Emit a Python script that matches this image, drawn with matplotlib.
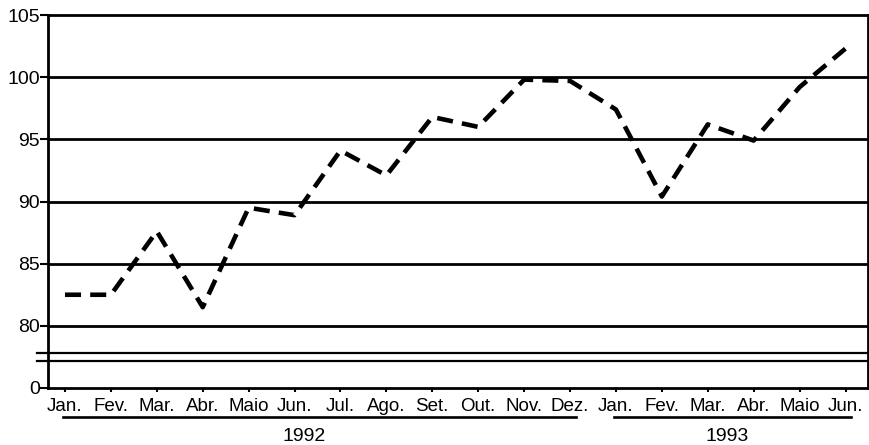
import matplotlib
matplotlib.use("Agg")
import matplotlib.pyplot as plt
import matplotlib.transforms as mtransforms

plt.rcParams['font.family'] = ['Liberation Sans', 'DejaVu Sans']

months = ["Jan.", "Fev.", "Mar.", "Abr.", "Maio", "Jun.", "Jul.", "Ago.", "Set.", "Out.",
          "Nov.", "Dez.", "Jan.", "Fev.", "Mar.", "Abr.", "Maio", "Jun."]
values = [82.5, 82.5, 87.6, 81.5, 89.5, 88.9, 94.1, 92.1, 96.8, 96.0,
          99.8, 99.7, 97.4, 90.4, 96.2, 94.9, 99.2, 102.3]
years = ["1992", "1993"]
year_spans = [(0, 11), (12, 17)]
ytick_vals = [75, 80, 85, 90, 95, 100, 105]
ytick_labels = ["0", "80", "85", "90", "95", "100", "105"]
grid_vals = [80, 85, 90, 95, 100]
break_vals = [77.2, 77.8]

fig = plt.figure(figsize=(8.7, 4.45), dpi=100)
ax = fig.add_axes([48/870, 1-388/445, 820/870, 373/445])

x = list(range(len(values)))
ax.plot(x, values, color='black', lw=3.3, linestyle=(0, (3.5, 2.0)),
        solid_capstyle='butt', dash_capstyle='butt', zorder=3)

for g in grid_vals:
    ax.axhline(g, color='black', lw=2.0, zorder=2)
for b in break_vals:
    ax.plot([-0.013, 1.0], [b, b], color='black', lw=1.6,
            transform=mtransforms.blended_transform_factory(ax.transAxes, ax.transData),
            clip_on=False, zorder=2)

ax.set_xlim(-0.37, 17.49)
ax.set_ylim(75, 105)
ax.set_yticks(ytick_vals)
ax.set_yticklabels(ytick_labels, fontsize=14)
ax.set_xticks(x)
ax.set_xticklabels(months, fontsize=13.5)
ax.tick_params(axis='y', length=6, width=1.5, pad=0)
ax.tick_params(axis='x', length=3, width=1.5, pad=4)
for s in ax.spines.values():
    s.set_linewidth(2.0)

trans = mtransforms.blended_transform_factory(ax.transData, ax.transAxes)
label_shift = [-0.3, -0.08]
for (a, b), yr, sh in zip(year_spans, years, label_shift):
    ax.plot([a - 0.04, b + 0.12], [-0.078, -0.078], color='black', lw=1.9,
            transform=trans, clip_on=False)
    ax.text((a + b) / 2 + sh, -0.13, yr, transform=trans, ha='center', va='center',
            fontsize=14)

fig.savefig("out.png", dpi=100)
